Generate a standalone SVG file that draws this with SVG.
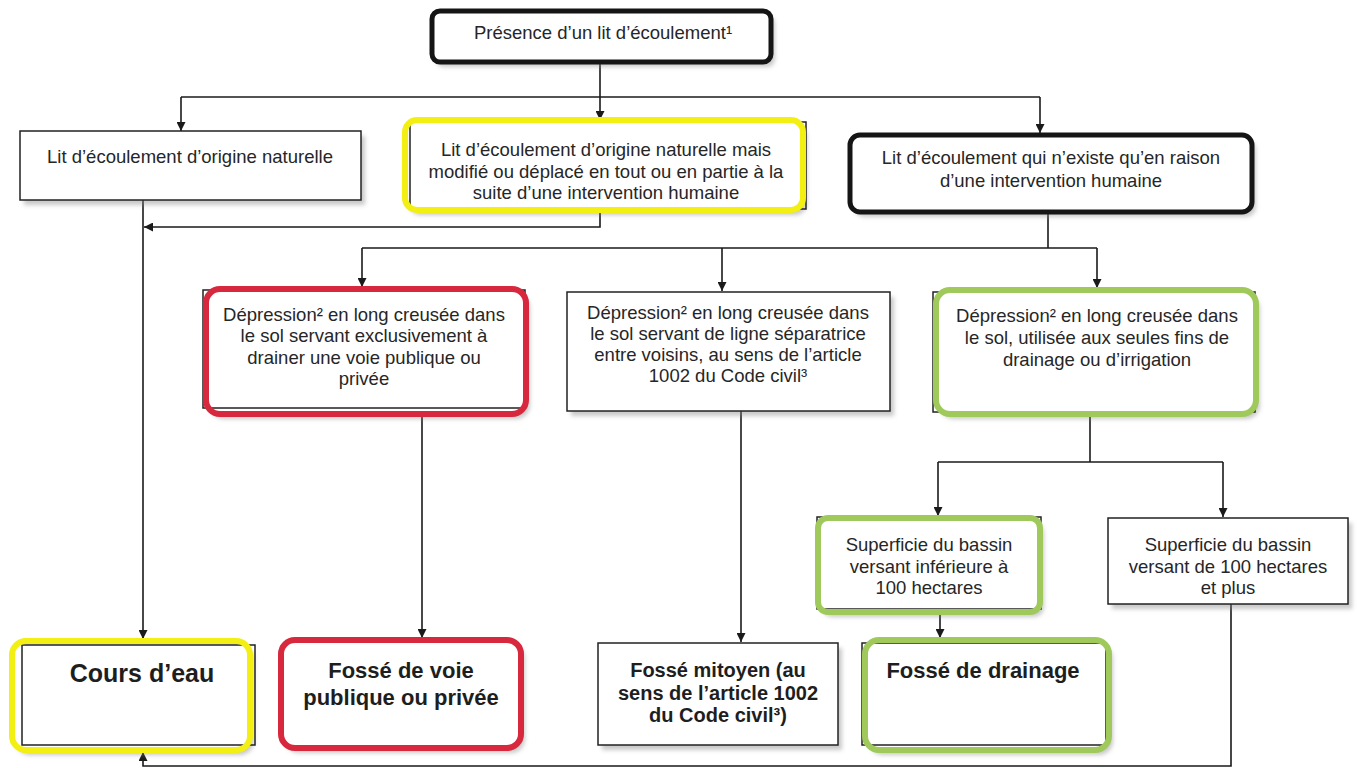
<svg xmlns="http://www.w3.org/2000/svg" width="1357" height="768" viewBox="0 0 1357 768">
  <defs>
    <filter id="sh" x="-10%" y="-10%" width="125%" height="135%">
      <feDropShadow dx="4" dy="5" stdDeviation="2" flood-color="#888" flood-opacity="0.45"/>
    </filter>
    <marker id="arr" viewBox="0 0 10 10" refX="10" refY="5" markerWidth="9" markerHeight="9" markerUnits="userSpaceOnUse" orient="auto">
      <path d="M0,0 L10,5 L0,10 z" fill="#1a1a1a"/>
    </marker>
  </defs>
  <style>
    .base { fill: #fff; filter: url(#sh); }
    .thin { fill: none; stroke: #222; stroke-width: 1.5; }
    .thick { fill: none; stroke: #151515; stroke-width: 5; }
    .yel { fill: none; stroke: #f3ef12; stroke-width: 6; }
    .red { fill: none; stroke: #d7283d; stroke-width: 6; }
    .grn { fill: none; stroke: #a0c95c; stroke-width: 6; }
    .t { font-family: "Liberation Sans", Arial, sans-serif; font-size: 18.5px; fill: #262626; text-anchor: middle; }
    .b { font-family: "Liberation Sans", Arial, sans-serif; font-weight: bold; fill: #1e1e1e; text-anchor: middle; }
    .c { fill: none; stroke: #1a1a1a; stroke-width: 1.6; }
  </style>
  <rect width="1357" height="768" fill="#fff"/>

  <!-- connectors -->
  <g id="connectors">
    <path class="c" d="M600,62 V97"/>
    <path class="c" d="M181,97 H1040"/>
    <path class="c" d="M181,97 V131" marker-end="url(#arr)"/>
    <path class="c" d="M600,97 V120" marker-end="url(#arr)"/>
    <path class="c" d="M1040,97 V133" marker-end="url(#arr)"/>
    <path class="c" d="M143,200 V639" marker-end="url(#arr)"/>
    <path class="c" d="M600,211 V227 H144" marker-end="url(#arr)"/>
    <path class="c" d="M1048,212 V248"/>
    <path class="c" d="M362,248 H1097"/>
    <path class="c" d="M362,248 V287" marker-end="url(#arr)"/>
    <path class="c" d="M722,248 V291" marker-end="url(#arr)"/>
    <path class="c" d="M1097,248 V288" marker-end="url(#arr)"/>
    <path class="c" d="M422,414 V638" marker-end="url(#arr)"/>
    <path class="c" d="M741,411 V642" marker-end="url(#arr)"/>
    <path class="c" d="M1090,414 V462"/>
    <path class="c" d="M938,462 H1223"/>
    <path class="c" d="M938,462 V516" marker-end="url(#arr)"/>
    <path class="c" d="M1223,462 V517" marker-end="url(#arr)"/>
    <path class="c" d="M940,612 V638" marker-end="url(#arr)"/>
    <path class="c" d="M1231,604 V766 H143 V752" marker-end="url(#arr)"/>
  </g>

  <g id="presence">
    <rect class="base" x="432" y="11" width="339" height="51" rx="8"/>
    <rect class="thick" x="432" y="11" width="339" height="51" rx="8"/>
    <text class="t" x="603" y="39">Présence d’un lit d’écoulement¹</text>
  </g>

  <g id="naturel">
    <rect class="base" x="20" y="131" width="341" height="69"/>
    <rect class="thin" x="20" y="131" width="341" height="69"/>
    <text class="t" x="190" y="163">Lit d’écoulement d’origine naturelle</text>
  </g>

  <g id="modifie">
    <rect class="base" x="405" y="120" width="398" height="90" rx="12"/>
    <rect class="thin" x="410" y="122" width="396" height="87"/>
    <rect class="yel" x="405" y="120" width="398" height="90" rx="12"/>
    <text class="t" x="606" y="156">Lit d’écoulement d’origine naturelle mais</text>
    <text class="t" x="606" y="178">modifié ou déplacé en tout ou en partie à la</text>
    <text class="t" x="606" y="199">suite d’une intervention humaine</text>
  </g>

  <g id="humain">
    <rect class="base" x="850" y="135" width="402" height="77" rx="10"/>
    <rect class="thick" x="850" y="135" width="402" height="77" rx="10"/>
    <text class="t" x="1051" y="164">Lit d’écoulement qui n’existe qu’en raison</text>
    <text class="t" x="1051" y="187">d’une intervention humaine</text>
  </g>

  <g id="voie">
    <rect class="base" x="206" y="289" width="320" height="125" rx="14"/>
    <rect class="thin" x="203" y="290" width="322" height="118"/>
    <rect class="red" x="206" y="289" width="320" height="125" rx="14"/>
    <text class="t" x="364" y="321">Dépression² en long creusée dans</text>
    <text class="t" x="364" y="342">le sol servant exclusivement à</text>
    <text class="t" x="364" y="364">drainer une voie publique ou</text>
    <text class="t" x="364" y="385">privée</text>
  </g>

  <g id="separatrice">
    <rect class="base" x="567" y="292" width="323" height="119"/>
    <rect class="thin" x="567" y="292" width="323" height="119"/>
    <text class="t" x="728" y="319">Dépression² en long creusée dans</text>
    <text class="t" x="728" y="340">le sol servant de ligne séparatrice</text>
    <text class="t" x="728" y="361">entre voisins, au sens de l’article</text>
    <text class="t" x="728" y="382">1002 du Code civil³</text>
  </g>

  <g id="drainage-irrigation">
    <rect class="base" x="936" y="290" width="320" height="124" rx="14"/>
    <rect class="thin" x="933" y="292" width="322" height="120"/>
    <rect class="grn" x="936" y="290" width="320" height="124" rx="14"/>
    <text class="t" x="1097" y="322">Dépression² en long creusée dans</text>
    <text class="t" x="1097" y="344">le sol, utilisée aux seules fins de</text>
    <text class="t" x="1097" y="366">drainage ou d’irrigation</text>
  </g>

  <g id="bassin-inf">
    <rect class="base" x="818" y="518" width="222" height="94" rx="10"/>
    <rect class="thin" x="817" y="517" width="224" height="92"/>
    <rect class="grn" x="818" y="518" width="222" height="94" rx="10"/>
    <text class="t" x="929" y="551">Superficie du bassin</text>
    <text class="t" x="929" y="573">versant inférieure à</text>
    <text class="t" x="929" y="594">100 hectares</text>
  </g>

  <g id="bassin-sup">
    <rect class="base" x="1108" y="518" width="240" height="86"/>
    <rect class="thin" x="1108" y="518" width="240" height="86"/>
    <text class="t" x="1228" y="551">Superficie du bassin</text>
    <text class="t" x="1228" y="573">versant de 100 hectares</text>
    <text class="t" x="1228" y="594">et plus</text>
  </g>

  <g id="cours-eau">
    <rect class="base" x="12" y="641" width="238" height="109" rx="14"/>
    <rect class="thin" x="22" y="645" width="233" height="100"/>
    <rect class="yel" x="12" y="641" width="238" height="109" rx="14"/>
    <text class="b" x="142" y="682" font-size="25">Cours d’eau</text>
  </g>

  <g id="fosse-voie">
    <rect class="base" x="281" y="640" width="240" height="108" rx="14"/>
    <rect class="red" x="281" y="640" width="240" height="108" rx="14"/>
    <text class="b" x="401" y="678" font-size="22">Fossé de voie</text>
    <text class="b" x="401" y="705" font-size="22">publique ou privée</text>
  </g>

  <g id="fosse-mitoyen">
    <rect class="base" x="598" y="643" width="240" height="102"/>
    <rect class="thin" x="598" y="643" width="240" height="102"/>
    <text class="b" x="718" y="677" font-size="20">Fossé mitoyen (au</text>
    <text class="b" x="718" y="700" font-size="20">sens de l’article 1002</text>
    <text class="b" x="718" y="722" font-size="20">du Code civil³)</text>
  </g>

  <g id="fosse-drainage">
    <rect class="base" x="865" y="640" width="244" height="110" rx="14"/>
    <rect class="thin" x="862" y="643" width="244" height="102"/>
    <rect class="grn" x="865" y="640" width="244" height="110" rx="14"/>
    <text class="b" x="983" y="678" font-size="22">Fossé de drainage</text>
  </g>
</svg>
